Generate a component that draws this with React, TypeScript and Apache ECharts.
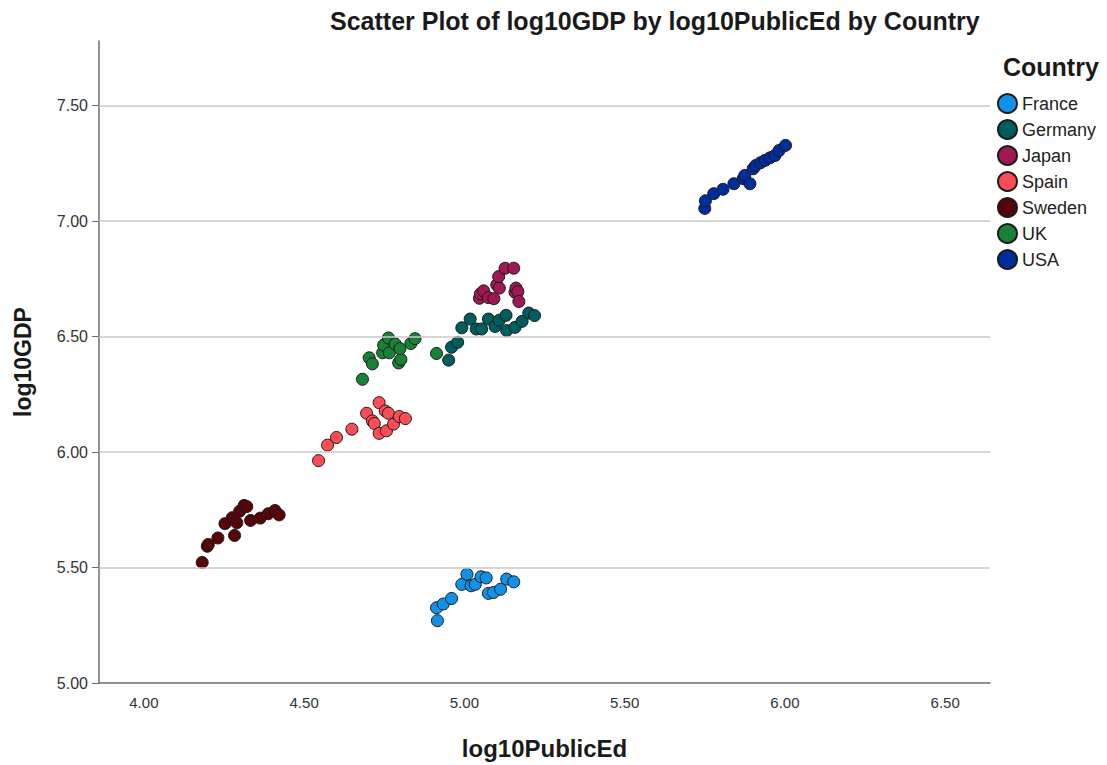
import React, { useEffect, useRef } from "react";
import * as echarts from "echarts";

const countries = ["France", "Germany", "Japan", "Spain", "Sweden", "UK", "USA"];
const colors = ["#1192e8", "#005d5d", "#9f1853", "#fa4d56", "#570408", "#198038", "#002d9c"];

const france: number[][] = [
  [4.916, 5.27], [4.913, 5.326], [4.934, 5.342], [4.96, 5.366], [4.992, 5.427],
  [5.008, 5.471], [5.021, 5.421], [5.034, 5.427], [5.052, 5.46], [5.068, 5.455],
  [5.075, 5.388], [5.091, 5.392], [5.113, 5.406], [5.132, 5.45], [5.154, 5.438],
];
const germany: number[][] = [
  [4.951, 6.398], [4.96, 6.454], [4.979, 6.475], [4.992, 6.538], [5.018, 6.576],
  [5.037, 6.533], [5.054, 6.533], [5.075, 6.576], [5.096, 6.544], [5.109, 6.571],
  [5.13, 6.592], [5.132, 6.526], [5.158, 6.54], [5.18, 6.566], [5.201, 6.602],
  [5.219, 6.591],
];
const japan: number[][] = [
  [5.047, 6.666], [5.05, 6.685], [5.06, 6.698], [5.075, 6.669], [5.092, 6.664],
  [5.101, 6.724], [5.109, 6.71], [5.107, 6.76], [5.127, 6.796], [5.154, 6.796],
  [5.158, 6.692], [5.161, 6.71], [5.167, 6.695], [5.17, 6.652],
];
const spain: number[][] = [
  [4.545, 5.963], [4.573, 6.03], [4.601, 6.063], [4.649, 6.099], [4.695, 6.168],
  [4.713, 6.135], [4.719, 6.124], [4.734, 6.214], [4.753, 6.178], [4.763, 6.168],
  [4.734, 6.081], [4.757, 6.092], [4.779, 6.121], [4.797, 6.154], [4.816, 6.145],
];
const sweden: number[][] = [
  [4.182, 5.522], [4.198, 5.592], [4.201, 5.6], [4.231, 5.628], [4.253, 5.69],
  [4.276, 5.716], [4.283, 5.639], [4.29, 5.694], [4.299, 5.744], [4.313, 5.769],
  [4.321, 5.764], [4.333, 5.704], [4.363, 5.714], [4.388, 5.733], [4.409, 5.747],
  [4.422, 5.728],
];
const uk: number[][] = [
  [4.682, 6.315], [4.703, 6.408], [4.713, 6.382], [4.745, 6.43], [4.748, 6.463],
  [4.763, 6.494], [4.766, 6.43], [4.784, 6.468], [4.795, 6.386], [4.802, 6.401],
  [4.799, 6.448], [4.833, 6.47], [4.846, 6.491], [4.913, 6.427],
];
const usa: number[][] = [
  [5.75, 7.055], [5.752, 7.088], [5.778, 7.119], [5.807, 7.138], [5.841, 7.162],
  [5.87, 7.184], [5.875, 7.198], [5.891, 7.162], [5.901, 7.227], [5.909, 7.241],
  [5.924, 7.253], [5.938, 7.263], [5.953, 7.274], [5.969, 7.284], [5.982, 7.306],
  [6.002, 7.328],
];
const seriesData = [france, germany, japan, spain, sweden, uk, usa];

const xTicks = [4.0, 4.5, 5.0, 5.5, 6.0, 6.5];
const yTicks = [5.0, 5.5, 6.0, 6.5, 7.0, 7.5];
const xRange = [3.86, 6.64];
const yRange = [5.0, 7.78];

const FONT = "'Liberation Sans', Arial, sans-serif";
const NARROW = "'Liberation Sans Narrow', 'Arial Narrow', 'Liberation Sans', sans-serif";

export default function App() {
  const ref = useRef<HTMLDivElement>(null);
  useEffect(() => {
    if (!ref.current) return;
    const chart = echarts.init(ref.current, null, { renderer: "svg" });
    const series: any[] = countries.map((name, i) => ({
      name,
      type: "scatter",
      data: seriesData[i],
      symbol: "circle",
      symbolSize: 12,
      itemStyle: { color: colors[i], borderColor: "#1a1a1a", borderWidth: 1, opacity: 1 },
      z: 3,
    }));
    series.push({
      name: "__grid",
      type: "scatter",
      data: [],
      silent: true,
      markLine: {
        silent: true,
        symbol: "none",
        label: { show: false },
        lineStyle: { color: "#c8c8c8", type: "solid", width: 1.5 },
        data: yTicks.filter((v) => v > yRange[0]).map((v) => ({ yAxis: v })),
      },
      z: 1,
    });
    chart.setOption({
      animation: false,
      textStyle: { fontFamily: FONT },
      title: [
        {
          text: "Scatter Plot of log10GDP by log10PublicEd by Country",
          left: 325,
          top: 3,
          textStyle: { fontFamily: FONT, fontSize: 25, fontWeight: "bold", color: "#1a1a1a" },
        },
        {
          text: "Country",
          left: 998,
          top: 49,
          textStyle: { fontFamily: FONT, fontSize: 25, fontWeight: "bold", color: "#1a1a1a" },
        },
      ],
      legend: {
        data: countries,
        orient: "vertical",
        left: 992,
        top: 88,
        itemWidth: 19,
        itemHeight: 19,
        itemGap: 5,
        icon: "circle",
        textStyle: { fontFamily: FONT, fontSize: 18, color: "#222" },
      },
      grid: { left: 99, right: 117, top: 41, bottom: 79, containLabel: false },
      xAxis: {
        type: "value",
        min: xRange[0],
        max: xRange[1],
        name: "log10PublicEd",
        nameLocation: "middle",
        nameGap: 53,
        nameTextStyle: { fontFamily: FONT, fontSize: 24, fontWeight: "bold", color: "#1a1a1a" },
        axisLine: { show: true, onZero: false, lineStyle: { color: "#6e6e6e", width: 1.5 } },
        axisTick: { show: false },
        splitLine: { show: false },
        axisLabel: {
          customValues: xTicks,
          formatter: (v: number) => v.toFixed(2),
          fontFamily: NARROW,
          fontSize: 15,
          color: "#333",
          margin: 12,
        },
      },
      yAxis: {
        type: "value",
        min: yRange[0],
        max: yRange[1],
        name: "log10GDP",
        nameLocation: "middle",
        nameGap: 65,
        nameTextStyle: { fontFamily: FONT, fontSize: 23, fontWeight: "bold", color: "#1a1a1a" },
        axisLine: { show: true, onZero: false, lineStyle: { color: "#6e6e6e", width: 1.5 } },
        axisTick: { show: true, customValues: yTicks, length: 7, lineStyle: { color: "#6e6e6e" } },
        splitLine: { show: false },
        axisLabel: {
          customValues: yTicks,
          formatter: (v: number) => v.toFixed(2),
          fontSize: 16,
          color: "#333",
          margin: 11,
        },
      },
      series,
    });
    return () => chart.dispose();
  }, []);
  return (
    <div
      ref={ref}
      style={{ position: "fixed", left: 0, top: 0, width: 1107, height: 765, background: "#fff" }}
    />
  );
}
